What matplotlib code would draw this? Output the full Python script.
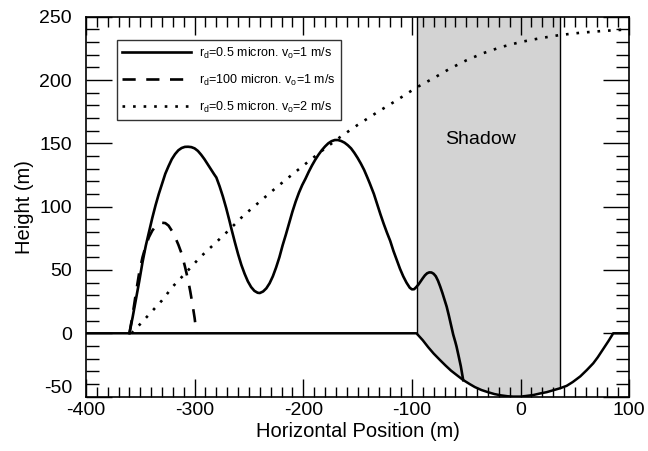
import matplotlib
matplotlib.use("Agg")
import matplotlib.pyplot as plt
import matplotlib.transforms as mtransforms
from matplotlib.ticker import MultipleLocator
import numpy as np

plt.rcParams['font.family'] = ['Liberation Sans', 'DejaVu Sans']
plt.rcParams['mathtext.fontset'] = 'custom'
plt.rcParams['mathtext.rm'] = 'Liberation Sans'
plt.rcParams['mathtext.it'] = 'Liberation Sans'
plt.rcParams['axes.unicode_minus'] = False

# Trajectory r_d=0.5 micron, v0=1 m/s
solid_x = [-360, -357, -354, -351, -348, -345, -342, -339, -336, -333, -330, -327, -324, -321,
           -318, -315, -312, -309, -306, -303, -300, -297, -294, -291, -288, -285, -282, -280,
           -277, -274, -271, -268, -266, -263, -260, -257, -254, -251, -248, -245, -242, -240,
           -237, -234, -231, -228, -225, -222, -219, -216, -213, -210, -207, -204, -201, -198,
           -195, -192, -189, -186, -183, -180, -177, -174, -171, -168, -165, -162, -159, -156,
           -153, -150, -147, -144, -141, -138.8, -135, -132, -129, -126, -123, -120, -117, -114,
           -111, -108, -105, -102, -100, -98, -96, -94, -92, -90, -88, -86, -84, -82, -80, -78,
           -76, -74, -72, -70, -68, -66, -64, -62, -60, -58.9, -57, -55, -52.8]
solid_y = [0, 13, 27, 41, 56, 69, 80, 91, 101, 110, 118, 126, 132, 137.5,
           141.5, 144.5, 146.3, 147.2, 147.3, 147, 146, 144, 141, 137.5, 133.5, 129.5, 125.5, 123,
           116, 108, 99, 89, 82, 72, 62.5, 54, 47, 41, 36.5, 33.5, 32, 31.8,
           33, 35.5, 39.5, 45, 52, 60, 69.5, 78, 87, 96, 104, 111, 117, 122,
           127.5, 132.5, 137, 141, 144.5, 147.5, 150, 151.7, 152.6, 152.6, 151.8, 150.5, 148.5, 146,
           142.5, 138.5, 134, 129, 123, 118.4, 110, 102, 94, 86.5, 79.5, 73, 65, 58,
           51, 45, 40, 36, 34.7, 34.8, 36.5, 38.5, 41, 43.5, 45.8, 47.4, 48.1, 48, 47, 45,
           41.5, 37, 32, 26.5, 21, 14, 6.5, -1, -7, -10.6, -18, -26, -37]

# Trajectory r_d=100 micron, v0=1 m/s
dash_x = [-360, -357, -354, -351, -348, -345, -342, -339, -336, -333, -330, -327, -324, -321,
          -318, -315, -312, -309, -306, -304, -302, -300, -298.3]
dash_y = [0, 15, 32, 48, 60, 69, 76, 81, 84.5, 86.5, 87.3, 87, 85, 81,
          76, 70, 63, 53, 42, 33, 23, 12, 0]

# Trajectory r_d=0.5 micron, v0=2 m/s
dot_x = [-358, -345, -330, -320, -309, -295, -280, -269, -255, -240, -225, -210, -194,
         -180, -166, -150, -132, -114, -96, -80, -65, -50, -35, -18, 0, 18, 36, 55, 75, 100]
dot_y = [0, 12, 26, 37, 47, 60, 72, 81, 93, 104, 115, 125.5, 136.5,
         146, 155, 164.5, 174.5, 184, 194, 201.5, 209, 215.5, 221, 226, 230, 233, 235.5, 237.3, 238.7, 240]

# Ground surface with crater
ground_x = [-400, -95.8, -90, -85, -80, -74.3, -69, -64, -58, -52.8, -47, -42, -36, -30, -24,
            -18, -12, -6.8, 0, 5, 12, 18, 24, 30, 36, 42.4, 48, 55, 61, 66.9, 71, 76, 81, 85.3, 100]
ground_y = [0, 0, -5.5, -11, -16, -21, -25.5, -29.5, -33.5, -36.9, -40, -42.5, -44.8, -46.5, -48,
            -49, -49.7, -50, -50, -49.5, -48.7, -47.5, -46.5, -45, -43.5, -41.5, -38.5, -34, -29, -23.7,
            -19, -12.5, -6, 0, 0]

shadow_left = -95.2
shadow_right = 36.4

fig = plt.figure(figsize=(6.48, 4.51), dpi=100)
ax = fig.add_axes([0.1327, 0.1206, 0.8383, 0.8424])

# Shadow region (above ground surface)
sx = [shadow_left] + [x for x in ground_x if shadow_left < x < shadow_right] + [shadow_right]
sy_bottom = np.interp(sx, ground_x, ground_y)
ax.fill_between(sx, sy_bottom, 250, color='#d3d3d3', zorder=1, linewidth=0)
ax.plot([shadow_left, shadow_left], [float(np.interp(shadow_left, ground_x, ground_y)), 250],
        color='black', lw=1.0, zorder=2)
ax.plot([shadow_right, shadow_right], [float(np.interp(shadow_right, ground_x, ground_y)), 250],
        color='black', lw=1.0, zorder=2)

ax.plot(ground_x, ground_y, color='black', lw=1.8, zorder=3, solid_joinstyle='round')
l1, = ax.plot(solid_x, solid_y, color='black', lw=1.9, zorder=4, solid_joinstyle='round',
              label=r'r$_{\rm d}$=0.5 micron. v$_{\rm o}$=1 m/s')
l2, = ax.plot(dash_x, dash_y, color='black', lw=1.9, ls=(0, (5, 4)), zorder=4,
              label=r'r$_{\rm d}$=100 micron. v$_{\rm o}$=1 m/s')
l3, = ax.plot(dot_x, dot_y, color='black', lw=1.9, ls=(0, (1, 3)), zorder=4,
              label=r'r$_{\rm d}$=0.5 micron. v$_{\rm o}$=2 m/s')

ax.text(-37, 153, 'Shadow', fontsize=14, ha='center', va='center', zorder=5)

ax.set_xlim(-400, 100)
ax.set_ylim(-50, 250)
ax.xaxis.set_major_locator(MultipleLocator(100))
ax.xaxis.set_minor_locator(MultipleLocator(10))
ax.yaxis.set_major_locator(MultipleLocator(50))
ax.yaxis.set_minor_locator(MultipleLocator(10))
ax.tick_params(axis='x', which='major', direction='in', top=True, bottom=True, length=13, width=1, labelsize=14, pad=4)
ax.tick_params(axis='x', which='minor', direction='in', top=True, bottom=True, length=7, width=1)
ax.tick_params(axis='y', which='major', direction='in', left=True, right=True, length=19, width=1, labelsize=14, pad=10)
ax.tick_params(axis='y', which='minor', direction='in', left=True, right=True, length=9.5, width=1)
for s in ax.spines.values():
    s.set_linewidth(1.2)

ax.set_xlabel('Horizontal Position (m)', fontsize=14.5, labelpad=2)
ax.set_ylabel('Height (m)', fontsize=14.5, labelpad=4)

fig.canvas.draw()
# lift the bottom y tick label (-50) slightly, as in the original
for lab in ax.get_yticklabels():
    if lab.get_text() in ('-50',):
        lab.set_transform(lab.get_transform() + mtransforms.ScaledTranslation(0, 7 / 72, fig.dpi_scale_trans))

leg = ax.legend(handles=[l1, l2, l3], loc='upper left', bbox_to_anchor=(0.0566, 0.9386),
                borderaxespad=0, fontsize=9, frameon=True, fancybox=False, edgecolor='black',
                handlelength=5.5, borderpad=0.45, labelspacing=0.95, handletextpad=0.6)
leg.get_frame().set_linewidth(1.0)
leg.set_zorder(6)

fig.savefig('out.png', dpi=100)
